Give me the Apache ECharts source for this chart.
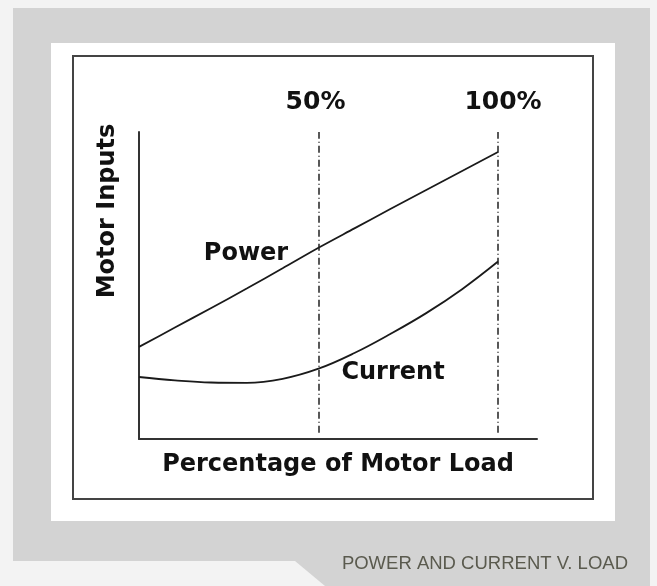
<!DOCTYPE html>
<html>
<head>
<meta charset="utf-8">
<script src="https://cdn.jsdelivr.net/npm/echarts@6/dist/echarts.min.js"></script>
<style>
  html, body { margin: 0; padding: 0; background: #f3f3f3; }
  #chart { width: 657px; height: 586px; }
</style>
</head>
<body>
<div id="chart"></div>
<script>
// load in percent, inputs in arbitrary units (0..100 = axis height)
const loadPct = [0, 10, 20, 30, 40, 50, 60, 70, 80, 90, 100];
const powerVals = [30.0, 36.3, 42.6, 49.0, 55.6, 62.3, 68.6, 74.9, 81.1, 87.3, 93.5];
const currentVals = [20.2, 19.1, 18.4, 18.3, 19.6, 22.9, 28.0, 34.2, 41.0, 48.8, 57.8];
const markAt = [50, 100];
const markLabels = ['50%', '100%'];
const seriesNames = ['Power', 'Current'];
const seriesLabelAt = [[29.8, 60.3], [70.75, 21.5]];
const xName = 'Percentage of Motor Load';
const yName = 'Motor Inputs';
const caption = 'POWER AND CURRENT V. LOAD';

const chart = echarts.init(document.getElementById('chart'));

const boldFont = 'DejaVu Sans';
const ink = '#111';

const toPairs = vals => loadPct.map((x, i) => [x, vals[i]]);

const option = {
  backgroundColor: '#f3f3f3',
  animation: false,
  graphic: [
    // grey frame + caption tab
    { type: 'rect', z: -20, shape: { x: 13, y: 8, width: 637, height: 553 }, style: { fill: '#d3d3d3' } },
    { type: 'polygon', z: -20, shape: { points: [[295, 561], [650, 561], [650, 586], [325, 586]] }, style: { fill: '#d3d3d3' } },
    // white card
    { type: 'rect', z: -19, shape: { x: 51, y: 43, width: 564, height: 478 }, style: { fill: '#fff' } },
    // black box
    { type: 'rect', z: -18, shape: { x: 73, y: 56, width: 520, height: 443 }, style: { fill: 'none', stroke: '#444', lineWidth: 2 } },
    {
      type: 'text', z: 10, x: 108, y: 211, rotation: Math.PI / 2,
      style: { text: yName, font: 'bold 24px "' + boldFont + '"', fill: ink, align: 'center', verticalAlign: 'middle' }
    },
    {
      type: 'text', z: 10, x: 628, y: 564,
      style: { text: caption, font: '18.5px "Liberation Sans", Arial', fill: '#5a5a4e', align: 'right', verticalAlign: 'middle' }
    }
  ],
  grid: { left: 139, top: 132, width: 398, height: 307 },
  xAxis: {
    type: 'value',
    min: 0,
    max: 110.86,
    name: xName,
    nameLocation: 'middle',
    nameGap: 14,
    nameTextStyle: { fontFamily: boldFont, fontWeight: 'bold', fontSize: 24, color: ink },
    axisLine: { lineStyle: { color: '#333', width: 2 } },
    axisTick: { show: false },
    axisLabel: { show: false },
    splitLine: { show: false }
  },
  yAxis: {
    type: 'value',
    min: 0,
    max: 100,
    axisLine: { show: true, lineStyle: { color: '#333', width: 2 } },
    axisTick: { show: false },
    axisLabel: { show: false },
    splitLine: { show: false }
  },
  series: [
    {
      name: seriesNames[0],
      type: 'line',
      data: toPairs(powerVals),
      smooth: 0.3,
      showSymbol: false,
      lineStyle: { color: '#1a1a1a', width: 1.8 },
      markPoint: {
        symbol: 'circle',
        symbolSize: 0,
        label: { show: true, position: 'inside', formatter: '{b}', fontFamily: boldFont, fontWeight: 'bold', fontSize: 24, color: ink },
        data: [{ name: seriesNames[0], coord: seriesLabelAt[0] }]
      },
      markLine: {
        silent: true,
        symbol: 'none',
        lineStyle: { color: '#222', width: 1.5, type: [7, 3, 1, 3] },
        label: {
          show: true, position: 'end', distance: 17,
          fontFamily: boldFont, fontWeight: 'bold', fontSize: 25, color: ink,
          formatter: p => p.name
        },
        data: markAt.map((x, i) => [
          { name: markLabels[i], coord: [x, 2], label: { offset: [i === 0 ? -3 : 5, 0] } },
          { coord: [x, 100] }
        ])
      }
    },
    {
      name: seriesNames[1],
      type: 'line',
      data: toPairs(currentVals),
      smooth: 0.4,
      showSymbol: false,
      lineStyle: { color: '#1a1a1a', width: 1.8 },
      markPoint: {
        symbol: 'circle',
        symbolSize: 0,
        label: { show: true, position: 'inside', formatter: '{b}', fontFamily: boldFont, fontWeight: 'bold', fontSize: 24, color: ink },
        data: [{ name: seriesNames[1], coord: seriesLabelAt[1] }]
      }
    }
  ]
};

chart.setOption(option);
</script>
</body>
</html>
